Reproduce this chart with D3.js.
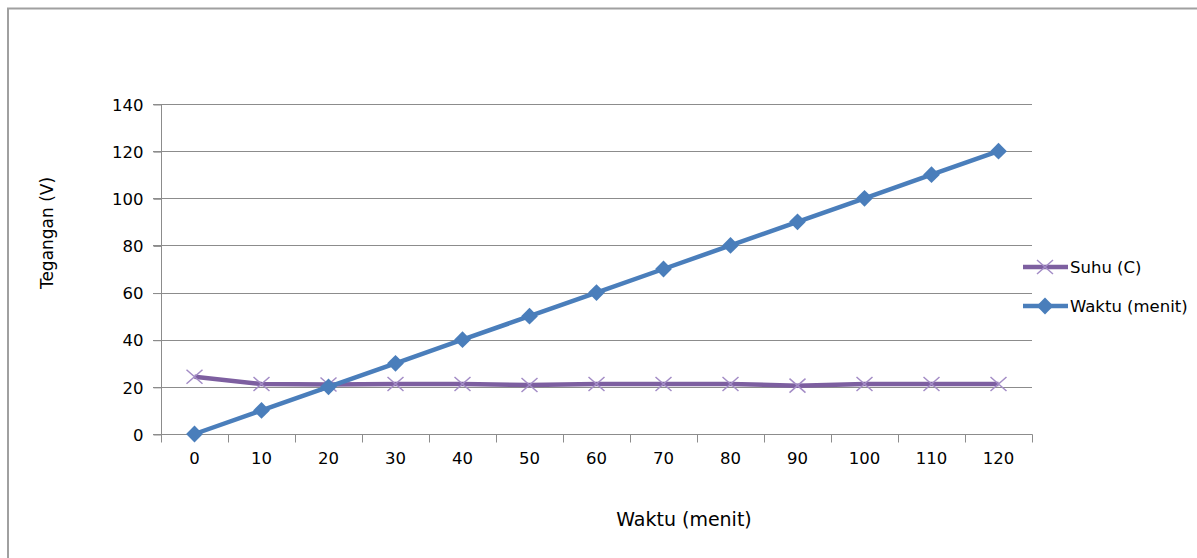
<!DOCTYPE html>
<html>
<head>
<meta charset="utf-8">
<script src="https://cdn.jsdelivr.net/npm/d3@7"></script>
<style>
  body { margin: 0; background: #fff; }
  text { font-family: "DejaVu Sans", Verdana, sans-serif; fill: #000; }
</style>
</head>
<body>
<div id="chart"></div>
<script>
const categories = [0, 10, 20, 30, 40, 50, 60, 70, 80, 90, 100, 110, 120];
const suhu = [24.3, 21.2, 21, 21.2, 21.2, 20.8, 21.2, 21.2, 21.2, 20.5, 21.2, 21.2, 21.2];
const waktu = [0, 10, 20, 30, 40, 50, 60, 70, 80, 90, 100, 110, 120];
const yTicks = [0, 20, 40, 60, 80, 100, 120, 140];
const seriesNames = ["Suhu (C)", "Waktu (menit)"];

const W = 1197, H = 558;
const plot = {left: 161, right: 1032, top: 104, bottom: 434};

const svg = d3.select("#chart").append("svg")
    .attr("width", W)
    .attr("height", H);

// outer frame (runs off the right and bottom edges)
svg.append("path")
    .attr("d", "M8," + (H + 5) + "V8.5H" + (W + 5))
    .attr("fill", "none")
    .attr("stroke", "#a0a0a0")
    .attr("stroke-width", 2);

const x = d3.scaleBand()
    .domain(categories)
    .range([plot.left, plot.right]);

const y = d3.scaleLinear()
    .domain([0, 140])
    .range([plot.bottom, plot.top]);

const cx = d => x(d) + x.bandwidth() / 2;

// gridlines
svg.append("g")
    .selectAll("line")
    .data(yTicks)
    .enter().append("line")
    .attr("x1", plot.left - 8)
    .attr("x2", plot.right)
    .attr("y1", d => Math.round(y(d)) + 0.5)
    .attr("y2", d => Math.round(y(d)) + 0.5)
    .attr("stroke", "#8c8c8c")
    .attr("stroke-width", 1);

// y axis
const yAxis = svg.append("g")
    .attr("transform", "translate(" + (plot.left + 0.5) + ",0.5)")
    .call(d3.axisLeft(y).tickValues(yTicks).tickSize(8).tickPadding(10));
yAxis.select(".domain").attr("stroke", "#8c8c8c").attr("d", "M0," + y(0) + "V" + y(140));
yAxis.selectAll(".tick line").attr("stroke", "#8c8c8c");
yAxis.selectAll("text").attr("font-size", 16.5).attr("font-family", "DejaVu Sans").attr("dy", "0.35em");

// x axis, ticks on category boundaries
const xAxis = svg.append("g")
    .attr("transform", "translate(0," + (Math.round(y(0)) + 0.5) + ")");
xAxis.append("line")
    .attr("x1", plot.left - 8)
    .attr("x2", plot.right + 0.5)
    .attr("stroke", "#8c8c8c");
xAxis.selectAll(".xt")
    .data(categories.concat(["end"]))
    .enter().append("line")
    .attr("class", "xt")
    .attr("x1", (d, i) => Math.round(plot.left + i * x.bandwidth()) + 0.5)
    .attr("x2", (d, i) => Math.round(plot.left + i * x.bandwidth()) + 0.5)
    .attr("y1", 0)
    .attr("y2", 8)
    .attr("stroke", "#8c8c8c");
xAxis.selectAll(".xl")
    .data(categories)
    .enter().append("text")
    .attr("class", "xl")
    .attr("x", d => cx(d))
    .attr("y", 29)
    .attr("text-anchor", "middle")
    .attr("font-size", 16.5)
    .text(d => d);

// lines
const line = vals => d3.line()
    .x((d, i) => cx(categories[i]))
    .y(d => y(d))(vals);

svg.append("path")
    .attr("d", line(suhu))
    .attr("fill", "none")
    .attr("stroke", "#7d5fa0")
    .attr("stroke-width", 4.5)
    .attr("stroke-linejoin", "round");

svg.append("g")
    .selectAll("path")
    .data(suhu)
    .enter().append("path")
    .attr("transform", (d, i) => "translate(" + cx(categories[i]) + "," + y(d) + ")")
    .attr("d", "M-8,-7L8,7M-8,7L8,-7")
    .attr("stroke", "#a38cc6")
    .attr("stroke-width", 1.5);

svg.append("path")
    .attr("d", line(waktu))
    .attr("fill", "none")
    .attr("stroke", "#4a7ebb")
    .attr("stroke-width", 4.5)
    .attr("stroke-linejoin", "round");

svg.append("g")
    .selectAll("path")
    .data(waktu)
    .enter().append("path")
    .attr("transform", (d, i) => "translate(" + cx(categories[i]) + "," + y(d) + ")")
    .attr("d", d3.symbol(d3.symbolDiamond2, 180))
    .attr("fill", "#4a7ebb");

// legend
const legend = svg.append("g").attr("transform", "translate(1023,0)");
const legY = [267, 306];
legend.append("line").attr("x1", 0).attr("x2", 45).attr("y1", legY[0]).attr("y2", legY[0])
    .attr("stroke", "#7d5fa0").attr("stroke-width", 4.5);
legend.append("path").attr("transform", "translate(22," + legY[0] + ")")
    .attr("d", "M-8,-7L8,7M-8,7L8,-7").attr("stroke", "#a38cc6").attr("stroke-width", 1.5);
legend.append("line").attr("x1", 0).attr("x2", 45).attr("y1", legY[1]).attr("y2", legY[1])
    .attr("stroke", "#4a7ebb").attr("stroke-width", 4.5);
legend.append("path").attr("transform", "translate(22," + legY[1] + ")")
    .attr("d", d3.symbol(d3.symbolDiamond2, 180)).attr("fill", "#4a7ebb");
legend.selectAll("text")
    .data(seriesNames)
    .enter().append("text")
    .attr("x", 47)
    .attr("y", (d, i) => legY[i])
    .attr("dy", "0.35em")
    .attr("font-size", 16.5)
    .text(d => d);

// axis titles
svg.append("text")
    .attr("x", 684)
    .attr("y", 519)
    .attr("dy", "0.35em")
    .attr("text-anchor", "middle")
    .attr("font-size", 19)
    .text("Waktu (menit)");

svg.append("text")
    .attr("transform", "translate(47,233) rotate(-90)")
    .attr("dy", "0.35em")
    .attr("text-anchor", "middle")
    .attr("font-size", 17)
    .text("Tegangan (V)");
</script>
</body>
</html>
